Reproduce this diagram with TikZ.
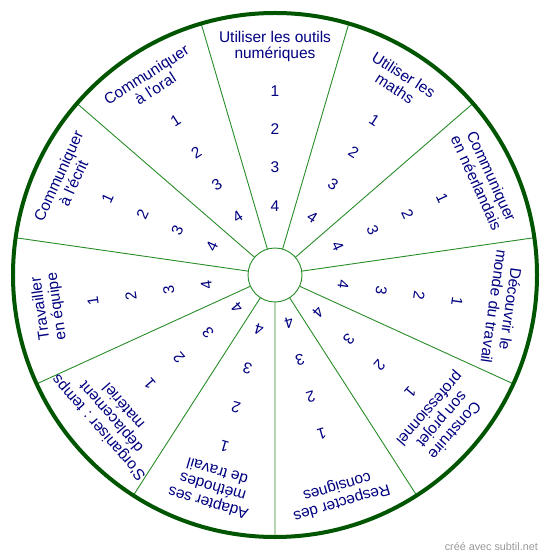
\documentclass[tikz,border=0pt]{standalone}
\usepackage{fontspec}
\setmainfont{Liberation Sans}[Ligatures=TeXOff]
\definecolor{rimgreen}{RGB}{0,85,0}
\definecolor{spokegreen}{RGB}{40,140,40}
\definecolor{inknavy}{RGB}{0,0,128}
\tikzset{
  skill/.style={text=inknavy, font=\fontsize{15.5}{16.5}\selectfont, align=center, inner sep=0pt, anchor=north},
  level/.style={text=inknavy, font=\fontsize{15.5}{16}\selectfont, inner sep=0pt},
}
\begin{document}
\begin{tikzpicture}[x=1pt,y=1pt]
		\useasboundingbox (-275,-284) rectangle (275,275);

		% spokes and rims
		\foreach \k in {0,...,10} {\draw[spokegreen,line width=0.9pt] ({73.64-\k*360/11}:27) -- ({73.64-\k*360/11}:262);}
		\draw[rimgreen,line width=4pt] (0,0) circle (262);
		\filldraw[fill=white,draw=spokegreen,line width=0.9pt] (0,0) circle (27);

		% skills
		\node[skill,rotate=0] (s0) at (90:244) {Utiliser les outils\\numériques};
		\node[skill,rotate=-32.73] (s1) at (57.27:244) {Utiliser les\\maths};
		\node[skill,rotate=-65.45] (s2) at (24.55:244) {Communiquer\\en néerlandais};
		\node[skill,rotate=-98.18] (s3) at (-8.18:244) {Découvrir le\\monde du travail};
		\node[skill,rotate=-130.91] (s4) at (-40.91:244) {Construire\\son projet\\professionnel};
		\node[skill,rotate=-163.64] (s5) at (-73.64:244) {Respecter des\\consignes};
		\node[skill,rotate=-196.36] (s6) at (-106.36:244) {Adapter ses\\méthodes\\de travail};
		\node[skill,rotate=-229.09] (s7) at (-139.09:240) {S'organiser : temps\\déplacement\\matériel};
		\node[skill,rotate=-261.82] (s8) at (-171.82:244) {Travailler\\en équipe};
		\node[skill,rotate=-294.55] (s9) at (-204.55:244) {Communiquer\\à l'écrit};
		\node[skill,rotate=-327.27] (s10) at (-237.27:244) {Communiquer\\à l'oral};

		% levels 1 to 4
		\foreach \k/\r/\d in {0/184/38.3, 1/184/38.3, 2/184/38.3, 3/184/38.3, 4/179/40.7, 5/165.6/38.5, 6/179/40.7, 7/165.6/38.5, 8/184/38.3, 9/184/38.3, 10/184/38.3} {
			\foreach \i in {1,...,4} {\node[level,rotate=-\k*360/11] (n\k-\i) at ({90-\k*360/11}:{\r-(\i-1)*\d}) {\i};}
		}

		\node[anchor=east,text=black!40,font=\fontsize{10.8}{12}\selectfont,inner sep=0pt] (credit) at (263,-272) {créé avec subtil.net};
\end{tikzpicture}
\end{document}
